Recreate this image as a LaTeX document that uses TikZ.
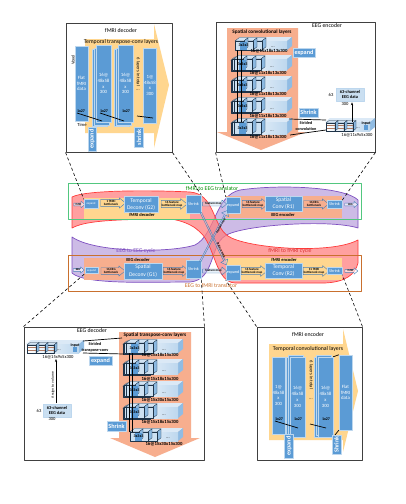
\documentclass[tikz,border=0pt]{standalone}
\usepackage{fontspec}
\setmainfont{Carlito}
\usetikzlibrary{positioning, arrows.meta, shapes.arrows, patterns}
\definecolor{blockBlue}{HTML}{5B9BD5}
\definecolor{paleBlue}{HTML}{BDD7EE}
\definecolor{layerYellow}{HTML}{FFD68F}
\definecolor{layerSalmon}{HTML}{F7AE8E}
\definecolor{cycleRed}{HTML}{FF3B3B}
\definecolor{cycleViolet}{HTML}{7E4FC0}
\definecolor{transGreen}{HTML}{52C77F}
\definecolor{transBrown}{HTML}{C9702E}
\definecolor{edgeBlue}{HTML}{4A7FB5}
\tikzset{
    panelbox/.style={draw=black!75, line width=0.9pt, fill=white, inner sep=0pt},
    bluebox/.style={fill=blockBlue, draw=paleBlue, line width=0.4pt, inner sep=0pt, align=center, text=white, font=\fontsize{4.8}{5.8}\selectfont},
    bluecore/.style={bluebox, font=\fontsize{5.6}{7.4}\selectfont},
    labelbox/.style={bluebox, font=\fontsize{6.2}{7}\selectfont\bfseries},
    panelbg/.style={inner sep=0pt},
    tag/.style={inner sep=0pt, align=center, font=\fontsize{4.6}{5.4}\selectfont},
    heading/.style={inner sep=0pt, font=\fontsize{5.8}{6.5}\selectfont},
    smalltag/.style={inner sep=0pt, align=center, font=\fontsize{4}{4.5}\selectfont\bfseries},
    flowarrow/.style={single arrow, draw=edgeBlue, line width=0.4pt, inner sep=0.2pt, single arrow head extend=1.8pt, single arrow tip angle=80, minimum height=#1, align=center, font=\fontsize{3.2}{3.6}\selectfont\bfseries},
    ioarrow/.style={flowarrow=#1, fill=white, fill opacity=0.6, text opacity=1},
    crossarrow/.style={flowarrow=#1, minimum width=8, fill=paleBlue, fill opacity=0.35, text opacity=1},
    sideline/.style={black, line width=0.7pt},
    zoomline/.style={black, line width=0.6pt, dashed, dash pattern=on 3pt off 2.5pt},
    cubeline/.style={draw=black!60!edgeBlue, line width=0.25pt},
}
% one box with a depth, going up and to the right
\newcommand{\drawcube}[6]{
    \filldraw[cubeline, fill=paleBlue!70!white] (#1,#2) -- ++(#5,-#5*0.8) -- ++(#3,0) -- ++(-#5,#5*0.8) -- cycle;
    \filldraw[cubeline, fill=blockBlue!50!paleBlue] (#1+#3,#2) -- ++(#5,-#5*0.8) -- ++(0,#4) -- ++(-#5,#5*0.8) -- cycle;
    \filldraw[cubeline, #6] (#1,#2) rectangle ++(#3,#4);
}
% long pale bar behind the cubes
\newcommand{\drawbar}[4]{
    \fill[paleBlue!55!white] (#1,#2) -- ++(5,-4) -- ++(#3,0) -- ++(-5,4) -- cycle;
    \fill[blockBlue!45!paleBlue] (#1+#3,#2) -- ++(5,-4) -- ++(0,#4) -- ++(-5,4) -- cycle;
    \shade[left color=white, right color=paleBlue] (#1,#2) rectangle ++(#3,#4);
}
% feature row: x, y, h, bar end, text y, label, name, layers behind
\newcommand{\featrow}[8]{
    \drawbar{#1}{#2}{#4-#1}{#3}
    \foreach \back in {#8,...,0} {
        \foreach \k in {2,1,0} {
            \drawcube{#1+9*\k-1.6*\back}{#2+0.6*\back}{9}{#3}{4}{fill=paleBlue!75!white}
        }
    }
    \fill[blockBlue] (#1+5,#2+1) rectangle ++(7,#3-1);
    \node[smalltag] (kern#7) at (#1+8.5,#2+#3/2) {3x3x3};
    \node[tag] (dots#7) at (#1+38,#2+#3-3) {...};
    \node[smalltag, font=\fontsize{4.7}{5}\selectfont\bfseries] (size#7) at (#1+34,#5) {#6};
}
% hatched input bar
\newcommand{\inputbar}[5]{
    \drawbar{#1}{#2}{#3}{#4}
    \foreach \k in {2,1,0} {
        \drawcube{#1+1+9*\k}{#2+1}{9}{#4-1}{3}{fill=layerSalmon!45!white, pattern=horizontal lines, pattern color=layerSalmon!70!black}
    }
    \fill[blockBlue] (#1+#3-6,#2+3) rectangle ++(4,5);
    \node[tag] (dots#5) at (#1+33,#2+6) {...};
    \node[smalltag] (input#5) at (#1+#3-4,#2+2) {Input};
}
\begin{document}
\begin{tikzpicture}[x=1pt, y=-1pt, line join=round]
    \useasboundingbox (0,0) rectangle (405,504);

    % ---- cycle bands
    \filldraw[draw=cycleViolet, line width=0.7pt, fill=cycleViolet!55!white, fill opacity=0.7]
        (358,200) .. controls (345,187) and (280,184) .. (240,190)
        .. controls (215,195) and (215,235) .. (195,245)
        .. controls (170,253) and (95,253) .. (72,237) -- (72,273)
        .. controls (85,285) and (150,282) .. (190,282)
        .. controls (215,280) and (210,245) .. (225,236)
        .. controls (240,225) and (330,219) .. (358,228) -- cycle;
    \filldraw[draw=cycleRed, line width=0.7pt, fill=cycleRed!65!white, fill opacity=0.75]
        (72,197) .. controls (85,190) and (150,190) .. (190,192)
        .. controls (215,194) and (212,225) .. (228,236)
        .. controls (245,248) and (330,255) .. (358,240) -- (358,263)
        .. controls (355,275) and (345,282) .. (325,283)
        -- (235,283) .. controls (215,282) and (215,245) .. (200,232)
        .. controls (190,222) and (170,216) .. (150,219)
        .. controls (110,220) and (85,221) .. (72,228) -- cycle;

    % ---- sub network backgrounds
    \node[panelbg, fill=layerYellow, minimum width=106, minimum height=21] (bgDecF) at (137,208.5) {};
    \node[panelbg, fill=layerSalmon, minimum width=116, minimum height=22] (bgEncE) at (284,207) {};
    \node[panelbg, fill=layerSalmon, minimum width=106, minimum height=22] (bgDecE) at (137,269) {};
    \node[panelbg, fill=layerYellow, minimum width=116, minimum height=22] (bgEncF) at (284,269) {};

    % ---- translator frames
    \node[draw=transGreen, line width=0.9pt, inner sep=0pt, minimum width=293, minimum height=36] (frameTop) at (215,201) {};
    \node[draw=transBrown, line width=0.9pt, inner sep=0pt, minimum width=293, minimum height=36] (frameBot) at (215,273) {};
    \node[heading, text=green!55!black] (titleTop) at (212,189) {fMRI to EEG translator};
    \node[heading, text=transBrown] (titleBot) at (211,286) {EEG to fMRI translator};
    \node[heading, text=cycleRed!85!black] (titleRed) at (290,251) {fMRI to fMRI cycle};
    \node[heading, text=cycleViolet] (titleViolet) at (136,251) {EEG to EEG cycle};

    % ---- top row
    \node[ioarrow=11, font=\fontsize{2.8}{3}\selectfont\bfseries] (inF) at (78.5,204.5) {fMRI};
    \node[bluebox, minimum width=14, minimum height=9] (expTL) at (91,204) {\fontsize{3}{3}\selectfont expand};
    \node[flowarrow=25] (arTL1) at (111,203) {1 fMRI\\bottleneck};
    \node[bluecore, minimum width=34, minimum height=16] (coreG2) at (141,204.5) {Temporal\\Deconv (G2)};
    \node[flowarrow=25] (arTL2) at (172,204) {16 feature\\bottleneck map};
    \node[bluebox, minimum width=15, minimum height=18, font=\fontsize{4.2}{5}\selectfont] (shrTL) at (193.5,204) {Shrink};
    \node[tag, font=\fontsize{4.5}{5}\selectfont\bfseries] (capG2) at (142,214.5) {fMRI decoder};

    \node[bluebox, minimum width=14, minimum height=16, font=\fontsize{4.2}{5}\selectfont] (expTR) at (233,205) {expand};
    \node[flowarrow=25] (arTR1) at (253,204) {16 feature\\bottleneck map};
    \node[bluecore, minimum width=37, minimum height=15] (coreR1) at (283.5,203.5) {Spatial\\Conv (R1)};
    \node[flowarrow=25] (arTR2) at (314,204) {16 EEG\\bottleneck};
    \node[bluebox, minimum width=15, minimum height=8, font=\fontsize{4.2}{5}\selectfont] (shrTR) at (334.5,204.5) {Shrink};
    \node[ioarrow=13, font=\fontsize{2.8}{3}\selectfont\bfseries] (outE) at (350.5,204.5) {EEG};
    \node[tag, font=\fontsize{4.5}{5}\selectfont\bfseries] (capR1) at (283,215) {EEG encoder};

    % ---- bottom row
    \node[ioarrow=11, font=\fontsize{2.8}{3}\selectfont\bfseries] (inE) at (78,270) {EEG};
    \node[bluebox, minimum width=13, minimum height=6] (expBL) at (91.5,270.5) {\fontsize{3}{3}\selectfont expand};
    \node[flowarrow=24] (arBL1) at (111,271) {16 EEG\\bottleneck};
    \node[bluecore, minimum width=38, minimum height=16] (coreG1) at (143,271) {Spatial\\Deconv (G1)};
    \node[flowarrow=24] (arBL2) at (174,271) {16 feature\\bottleneck map};
    \node[bluebox, minimum width=15, minimum height=18, font=\fontsize{4.2}{5}\selectfont] (shrBL) at (193.5,269) {Shrink};
    \node[tag, font=\fontsize{4.5}{5}\selectfont\bfseries] (capG1) at (138,260) {EEG decoder};

    \node[bluebox, minimum width=14, minimum height=15, font=\fontsize{4.2}{5}\selectfont] (expBR) at (233,272.5) {expand};
    \node[tag, font=\fontsize{4.5}{5}\selectfont\bfseries] (capR2) at (284,260) {fMRI encoder};
    \node[flowarrow=25] (arBR1) at (252,271) {16 feature\\bottleneck map};
    \node[bluecore, minimum width=37, minimum height=15] (coreR2) at (283.5,270.5) {Temporal\\Conv (R2)};
    \node[flowarrow=25] (arBR2) at (314,271) {11 fMRI\\bottleneck map};
    \node[bluebox, minimum width=15, minimum height=7, font=\fontsize{4.2}{5}\selectfont] (shrBR) at (334.5,271) {Shrink};
    \node[ioarrow=13, font=\fontsize{2.8}{3}\selectfont\bfseries] (outF) at (350.5,271) {fMRI};

    % ---- crossing
    \node[crossarrow=24] (linkTop) at (213.5,204) {feature map};
    \node[crossarrow=24] (linkBot) at (213.5,271) {feature map};
    \node[crossarrow=58, rotate=-64] (crossDown) at (213.5,238.5) {};
    \node[crossarrow=58, rotate=62] (crossUp) at (213.5,236.5) {};
    \node[tag, font=\fontsize{3.2}{3.6}\selectfont\bfseries, rotate=62] (crossUpText) at (221,226) {feature map};
    \node[tag, font=\fontsize{3.2}{3.6}\selectfont\bfseries, rotate=-64] (crossDownText) at (221,250) {feature map};

    % ---- fMRI decoder panel
    \node[panelbox, minimum width=106, minimum height=129] (panelA) at (119,87.5) {};
    \fill[layerYellow] (85,39) -- (154,39) -- (154,24) -- (169,85) -- (154,148) -- (154,133) -- (85,133) -- cycle;
    \node[heading] (titleA) at (121,31) {fMRI decoder};
    \node[heading] (layersA) at (121,42) {Temporal transpose-conv layers};
    \node[bluebox, minimum width=13, minimum height=75] (flatA) at (81.5,83.5) {Flat\\fMRI\\data};
    \foreach \bx/\bn in {102.5/A, 124.5/B} {
        \foreach \off in {2,1} {
            \node[bluebox, minimum width=15, minimum height=77] (back\bn\off) at (\bx-\off*1.2,85+\off*1.5) {};
        }
        \node[bluebox, minimum width=15, minimum height=77] (front\bn) at (\bx+1,83.5) {16@\\48x58\\x\\300};
    }
    \node[bluebox, minimum width=13, minimum height=75] (lastA) at (150,85.5) {1@\\48x58\\x\\300};
    \node[tag, rotate=90] (voxelA) at (73,60) {Voxel};
    \node[tag, rotate=-90] (totalA) at (138,72) {6 layers in total};
    \node[tag] (dotsA) at (138,90) {...};
    \node[smalltag] (kerA1) at (81,111) {1x27};
    \node[smalltag] (kerA2) at (104,111) {1x27};
    \node[smalltag] (kerA3) at (126,111) {1x27};
    \node[tag] (timeA) at (82,125) {Time};
    \coordinate (tA1) at (77,113); \coordinate (hA1) at (102,121);
    \coordinate (tA2) at (100,113); \coordinate (hA2) at (124,121);
    \coordinate (tA3) at (137,116); \coordinate (hA3) at (153,118);
    \draw[sideline] (tA1) -- (hA1);
    \draw[sideline] (tA2) -- (hA2);
    \draw[sideline] (tA3) -- (hA3);
    \node[labelbox, minimum width=8, minimum height=24] (expandA) at (92,139) {\rotatebox{90}{expand}};
    \node[labelbox, minimum width=9, minimum height=20] (shrinkA) at (139,137.5) {\rotatebox{90}{shrink}};

    % ---- EEG encoder panel
    \node[panelbox, minimum width=159, minimum height=130] (panelB) at (295.5,87) {};
    \fill[layerSalmon] (227,28) -- (298,28) -- (298,132) -- (306,132) -- (261,150) -- (217,132) -- (227,132) -- cycle;
    \node[heading] (titleB) at (327,26) {EEG encoder};
    \node[heading, font=\fontsize{5.2}{6}\selectfont\bfseries] (layersB) at (262,32) {Spatial convolutional layers};
    \foreach \rx/\ry/\rh/\rl/\rn/\rb in {234/122/12/137/B5/2, 234/101/11/116/B4/2, 234/80/11/94/B3/2, 234/59/11/73/B2/2, 235/41/9/51/B1/0} {
        \featrow{\rx}{\ry}{\rh}{287}{\rl}{16@11x18x13x300}{\rn}{\rb}
    }
    \coordinate (vB1) at (237,50); \coordinate (vB2) at (237,122);
    \coordinate (vB3) at (241,50); \coordinate (vB4) at (241,122);
    \draw[sideline, line width=0.5pt] (vB1) -- (vB2);
    \draw[sideline, line width=0.5pt] (vB3) -- (vB4);
    \node[labelbox, minimum width=22, minimum height=9] (expandB) at (304,52.5) {expand};
    \node[labelbox, minimum width=19, minimum height=9] (shrinkB) at (308.5,112.5) {Shrink};
    \inputbar{325}{122}{45}{9}{B}
    \node[tag] (sizeInB) at (357,135) {16@11x9x5x300};
    \node[tag, font=\fontsize{4.2}{5.6}\selectfont\bfseries] (stridB) at (306,126) {Strided\\convolution};
    \coordinate (sB1) at (289,119); \coordinate (sB2) at (326,120);
    \coordinate (sB3) at (290,135); \coordinate (sB4) at (326,130);
    \draw[sideline] (sB1) -- (sB2);
    \draw[sideline] (sB3) -- (sB4);
    \node[draw=paleBlue, fill=paleBlue!80!white, inner sep=0pt, minimum width=28, minimum height=13, tag, font=\fontsize{4.4}{5.4}\selectfont\bfseries] (dataB) at (350,94.5) {63-channel\\EEG data};
    \node[tag] (chanB) at (331,95) {63};
    \node[tag] (lenB) at (345,104) {300};
    \coordinate (aB) at (352,122);
    \draw[sideline, -{Stealth[length=3pt]}] (aB) -- (aB |- lenB.north);

    % ---- EEG decoder panel
    \node[panelbox, minimum width=180, minimum height=133] (panelC) at (114,393.5) {};
    \fill[layerSalmon] (119,332) -- (191,332) -- (191,438) -- (200,438) -- (155,457) -- (110,438) -- (119,438) -- cycle;
    \node[heading] (titleC) at (92,331) {EEG decoder};
    \node[heading, font=\fontsize{5.2}{6}\selectfont\bfseries] (layersC) at (155,335) {Spatial transpose-conv layers};
    \foreach \rx/\ry/\rh/\rl/\rn/\rb/\rt in {130/432/9/444/C5/0/16@15x30x15x300, 126/407/11/422/C4/2/16@15x18x15x300, 126/385/11/400/C3/2/16@15x30x15x300, 126/363/11/379/C2/2/16@15x18x15x300, 126/343/10/355/C1/2/16@15x18x15x300} {
        \featrow{\rx}{\ry}{\rh}{178}{\rl}{\rt}{\rn}{\rb}
    }
    \coordinate (vC1) at (129,353); \coordinate (vC2) at (129,432);
    \coordinate (vC3) at (132,353); \coordinate (vC4) at (132,432);
    \draw[sideline, line width=0.5pt] (vC1) -- (vC2);
    \draw[sideline, line width=0.5pt] (vC3) -- (vC4);
    \inputbar{26}{344}{53}{9}{C}
    \node[tag] (sizeInC) at (58,357) {16@15x9x5x300};
    \node[tag, font=\fontsize{4.2}{6}\selectfont\bfseries] (stridC) at (95,347) {Strided\\transpose-conv};
    \coordinate (sC1) at (83,341); \coordinate (sC2) at (122,338);
    \coordinate (sC3) at (83,353); \coordinate (sC4) at (124,354);
    \draw[sideline] (sC1) -- (sC2);
    \draw[sideline] (sC3) -- (sC4);
    \node[labelbox, minimum width=23, minimum height=9] (expandC) at (100.5,360.5) {expand};
    \node[labelbox, minimum width=19, minimum height=10] (shrinkC) at (116.5,426) {Shrink};
    \node[draw=paleBlue, fill=paleBlue!80!white, inner sep=0pt, minimum width=28, minimum height=13, tag, font=\fontsize{4.4}{5.4}\selectfont\bfseries] (dataC) at (57,410.5) {63-channel\\EEG data};
    \node[tag] (chanC) at (39,411) {63};
    \node[tag] (lenC) at (52,419) {300};
    \node[tag, rotate=90, font=\fontsize{3.8}{4}\selectfont] (assignC) at (53,385) {Assign to volume};
    \coordinate (aC) at (56,403);
    \draw[sideline, -{Stealth[length=3pt]}] (aC) -- (aC |- sizeInC.south);

    % ---- fMRI encoder panel
    \node[panelbox, minimum width=105, minimum height=133] (panelD) at (309.5,393.5) {};
    \fill[layerYellow] (269,344) -- (343,344) -- (343,329) -- (358,391) -- (343,452) -- (343,440) -- (269,440) -- cycle;
    \node[heading] (titleD) at (308,335) {fMRI encoder};
    \node[heading] (layersD) at (308,349) {Temporal convolutional layers};
    \node[bluebox, minimum width=13, minimum height=77] (firstD) at (278.5,395.5) {1@\\48x58\\x\\300};
    \foreach \bx/\bn in {296.5/A, 324.5/B} {
        \foreach \off in {2,1} {
            \node[bluebox, minimum width=15, minimum height=80] (backD\bn\off) at (\bx-\off*1.2,394+\off*1.5) {};
        }
        \node[bluebox, minimum width=15, minimum height=80] (frontD\bn) at (\bx+1,397) {16@\\48x58\\x\\300};
    }
    \node[bluebox, minimum width=13, minimum height=75] (flatD) at (345.5,392.5) {Flat\\fMRI\\data};
    \node[tag, rotate=-90] (totalD) at (311,375) {6 layers in total};
    \node[tag] (dotsD) at (311,399) {...};
    \node[smalltag] (kerD1) at (279,419) {1x27};
    \node[smalltag] (kerD2) at (298,419) {1x27};
    \node[smalltag] (kerD3) at (326,419) {1x27};
    \coordinate (tD1) at (275,421); \coordinate (hD1) at (298,428);
    \coordinate (tD2) at (310,424); \coordinate (hD2) at (326,428);
    \draw[sideline] (tD1) -- (hD1);
    \draw[sideline] (tD2) -- (hD2);
    \draw[sideline] (frontDB.north east) -- (flatD.north west);
    \draw[sideline] (frontDB.south east) -- (flatD.south west);
    \node[labelbox, minimum width=9, minimum height=24] (expandD) at (289,446) {\rotatebox{90}{expand}};
    \node[labelbox, minimum width=9, minimum height=19] (shrinkD) at (336.5,444.5) {\rotatebox{90}{Shrink}};

    % ---- zoom lines
    \draw[zoomline] (panelA.south west) -- (expTL.north west);
    \draw[zoomline] (panelA.south east) -- (shrTL.north east);
    \draw[zoomline] (panelB.south west) -- (expTR.north west);
    \draw[zoomline] (panelB.south east) -- (shrTR.north east);
    \draw[zoomline] (panelC.north west) -- (expBL.south west);
    \draw[zoomline] (panelC.north east) -- (shrBL.south east);
    \draw[zoomline] (panelD.north west) -- (expBR.south west);
    \draw[zoomline] (panelD.north east) -- (shrBR.south east);
\end{tikzpicture}
\end{document}
